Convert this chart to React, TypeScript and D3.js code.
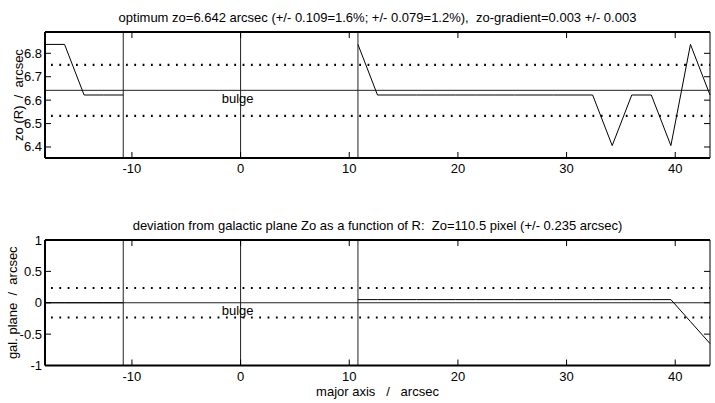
import React from "react";
import * as d3 from "d3";

const W = 715;
const H = 403;

// major-axis positions (arcsec)
const rOuter = [-18, -16.2, -14.4, -12.6, -10.8];
const rInner = [10.8, 12.6, 14.4, 16.2, 18, 19.8, 21.6, 23.4, 25.2, 27, 28.8, 30.6, 32.4, 34.2, 36, 37.8, 39.6, 41.4, 43.2];

// zo(R) values
const zoOuter = [6.838, 6.838, 6.622, 6.622, 6.622];
const zoInner = [6.838, 6.622, 6.622, 6.622, 6.622, 6.622, 6.622, 6.622, 6.622, 6.622, 6.622, 6.622, 6.622, 6.406, 6.622, 6.622, 6.406, 6.838, 6.622];

// deviation from galactic plane
const devOuter = [0, 0, 0, 0, 0];
const devInner = [0.05, 0.05, 0.05, 0.05, 0.05, 0.05, 0.05, 0.05, 0.05, 0.05, 0.05, 0.05, 0.05, 0.05, 0.05, 0.05, 0.05, -0.3, -0.65];

const zoOpt = 6.642;
const zoErr = 0.109;
const devErr = 0.235;
const bulgeEdges = [-10.8, 0, 10.8];

const xTicks = [-10, 0, 10, 20, 30, 40];
const zoTicks = [6.4, 6.5, 6.6, 6.7, 6.8];
const devTicks = [-1, -0.5, 0, 0.5, 1];

const title1 = "optimum zo=6.642 arcsec (+/- 0.109=1.6%; +/- 0.079=1.2%),  zo-gradient=0.003 +/- 0.003";
const title2 = "deviation from galactic plane Zo as a function of R:  Zo=110.5 pixel (+/- 0.235 arcsec)";
const yLabel1 = "zo (R)  /  arcsec";
const yLabel2 = "gal. plane  /  arcsec";
const xLabel = "major axis   /   arcsec";

const FONT = "'Liberation Sans', Arial, Helvetica, sans-serif";
const PRE = { whiteSpace: "pre" as const };

const L = 45, R = 710;
const x = d3.scaleLinear().domain([-18, 43.2]).range([L, R]);

type PanelProps = {
  top: number;
  bottom: number;
  y: d3.ScaleLinear<number, number>;
  yTicks: number[];
  fmt: (v: number) => string;
  ref0: number;
  err: number;
  s1: [number[], number[]];
  s2: [number[], number[]];
  title: string;
  yLabel: string;
  yLabelX: number;
};

function Panel(p: PanelProps) {
  const line = d3
    .line<[number, number]>()
    .x((d) => x(d[0]))
    .y((d) => p.y(d[1]));
  const pts1 = p.s1[0].map((r, i) => [r, p.s1[1][i]] as [number, number]);
  const pts2 = p.s2[0].map((r, i) => [r, p.s2[1][i]] as [number, number]);
  const tl = 6;
  return (
    <g>
      <text x={(L + R) / 2} y={p.top - 10} textAnchor="middle" fontSize={13} fontFamily={FONT} style={PRE}>
        {p.title}
      </text>
      {/* reference lines */}
      <line x1={L} x2={R} y1={p.y(p.ref0)} y2={p.y(p.ref0)} stroke="#222" strokeWidth={1} />
      {[p.ref0 + p.err, p.ref0 - p.err].map((v, i) => (
        <line key={i} x1={L + 6} x2={R} y1={p.y(v)} y2={p.y(v)} stroke="#000" strokeWidth={2.2}
          strokeDasharray="1.8 6.53" />
      ))}
      {bulgeEdges.map((b, i) => (
        <line key={i} x1={x(b)} x2={x(b)} y1={p.top} y2={p.bottom} stroke="#222" strokeWidth={1} />
      ))}
      <text x={x(0) - 3} y={p.y(p.ref0) + 12.5} textAnchor="middle" fontSize={13} fontFamily={FONT}>
        bulge
      </text>
      {/* data */}
      <path d={line(pts1) || ""} fill="none" stroke="#000" strokeWidth={1} />
      <path d={line(pts2) || ""} fill="none" stroke="#000" strokeWidth={1} />
      {/* ticks */}
      {xTicks.map((t) => (
        <g key={"x" + t}>
          <line x1={x(t)} x2={x(t)} y1={p.top} y2={p.top + tl} stroke="#000" />
          <line x1={x(t)} x2={x(t)} y1={p.bottom} y2={p.bottom - tl} stroke="#000" />
          <text x={x(t)} y={p.bottom + 15} textAnchor="middle" fontSize={13} fontFamily={FONT}>
            {t}
          </text>
        </g>
      ))}
      {p.yTicks.map((t) => (
        <g key={"y" + t}>
          <line x1={L} x2={L + tl} y1={p.y(t)} y2={p.y(t)} stroke="#000" />
          <line x1={R} x2={R - tl} y1={p.y(t)} y2={p.y(t)} stroke="#000" />
          <text x={L - 3} y={p.y(t) + 4.5} textAnchor="end" fontSize={13} fontFamily={FONT}>
            {p.fmt(t)}
          </text>
        </g>
      ))}
      {/* frame */}
      <line x1={L} x2={R} y1={p.top} y2={p.top} stroke="#000" strokeWidth={2} />
      <line x1={L} x2={R} y1={p.bottom} y2={p.bottom} stroke="#000" strokeWidth={2} />
      <line x1={L} x2={L} y1={p.top} y2={p.bottom} stroke="#000" strokeWidth={2} />
      <line x1={R} x2={R} y1={p.top} y2={p.bottom} stroke="#000" strokeWidth={1} />
      <text
        transform={`translate(${p.yLabelX},${(p.top + p.bottom) / 2}) rotate(-90)`}
        textAnchor="middle"
        dominantBaseline="central"
        fontSize={13}
        fontFamily={FONT}
        style={PRE}
      >
        {p.yLabel}
      </text>
    </g>
  );
}

export default function App() {
  const y1 = d3.scaleLinear().domain([6.353, 6.891]).range([158, 32]);
  const y2 = d3.scaleLinear().domain([-1, 1]).range([365.5, 240]);
  return (
    <svg width={W} height={H} style={{ position: "absolute", left: 0, top: 0, background: "#fff" }}>
      <rect width={W} height={H} fill="#fff" />
      <Panel
        top={32}
        bottom={158}
        y={y1}
        yTicks={zoTicks}
        fmt={(v) => v.toFixed(1)}
        ref0={zoOpt}
        err={zoErr}
        s1={[rOuter, zoOuter]}
        s2={[rInner, zoInner]}
        title={title1}
        yLabel={yLabel1}
        yLabelX={18}
      />
      <Panel
        top={240}
        bottom={365.5}
        y={y2}
        yTicks={devTicks}
        fmt={(v) => String(v)}
        ref0={0}
        err={devErr}
        s1={[rOuter, devOuter]}
        s2={[rInner, devInner]}
        title={title2}
        yLabel={yLabel2}
        yLabelX={12}
      />
      <text x={(L + R) / 2} y={396} textAnchor="middle" fontSize={13} fontFamily={FONT} style={PRE}>
        {xLabel}
      </text>
    </svg>
  );
}
